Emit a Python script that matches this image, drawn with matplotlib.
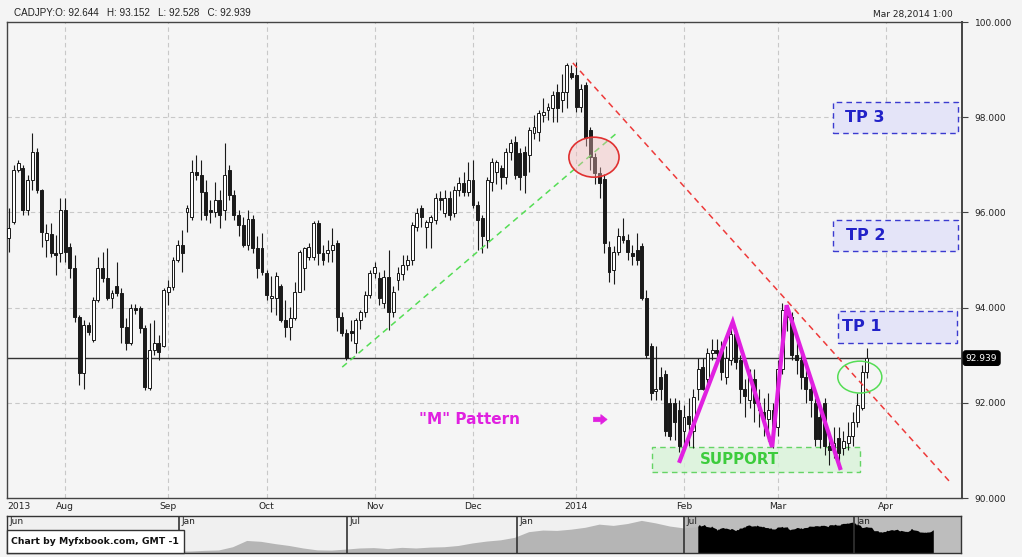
import numpy as np
import pandas as pd
import matplotlib
matplotlib.use("Agg")
import matplotlib.pyplot as plt
import matplotlib.transforms as mtrans
from matplotlib.patches import Rectangle, Ellipse

# ============================
# Data: CADJPY daily candles
# ============================
dates = pd.bdate_range("2013-07-16", "2014-03-28")

open_ = [
    95.46, 95.79, 96.89, 96.93, 96.05, 96.68, 97.27, 96.47, 95.42, 95.55,
    95.15, 95.15, 96.05, 95.27, 94.83, 93.80, 92.63, 93.64, 93.32, 94.16,
    94.83, 94.62, 94.20, 94.45, 94.31, 93.60, 93.26, 93.99, 93.99, 93.57,
    92.31, 93.11, 93.26, 93.20, 94.33, 94.43, 95.00, 95.32, 96.00, 95.90,
    96.85, 96.78, 96.43, 96.05, 96.00, 96.26, 96.05, 96.89, 96.36, 95.95,
    95.74, 95.32, 95.86, 95.25, 95.25, 94.73, 94.20, 94.20, 94.45, 93.74,
    93.60, 93.78, 94.33, 94.83, 95.06, 95.06, 95.78, 95.15, 95.15, 95.21,
    95.36, 93.80, 93.47, 93.50, 93.26, 93.74, 93.90, 94.27, 94.73, 94.62,
    94.10, 94.64, 93.90, 94.58, 94.70, 94.90, 95.00, 95.70, 96.10, 95.70,
    95.80, 95.84, 96.30, 95.99, 96.30, 95.99, 96.47, 96.62, 96.43, 96.68,
    96.16, 95.88, 95.42, 96.64, 96.85, 96.93, 96.74, 97.27, 97.48, 97.25,
    97.27, 97.21, 97.67, 97.69, 98.05, 98.15, 98.19, 98.53, 98.36, 98.53,
    98.93, 98.89, 98.21, 98.68, 97.73, 97.16, 96.83, 96.70, 95.27, 94.78,
    95.17, 95.50, 95.42, 95.15, 95.20, 95.30, 94.20, 93.20, 92.25, 92.55,
    92.60, 92.00, 92.00, 91.85, 91.40, 91.72, 91.40, 92.30, 92.75, 92.50,
    93.05, 93.10, 93.10, 92.55, 92.90, 93.45, 92.90, 92.30, 92.05, 92.50,
    92.00, 91.80, 91.65, 91.85, 91.50, 92.70, 93.95, 93.80, 93.00, 92.90,
    92.55, 92.30, 92.00, 91.70, 92.00, 91.10, 91.05, 91.25, 91.05, 91.15,
    91.30, 91.60, 91.90, 92.644,
]
high = [
    96.09, 96.99, 97.10, 97.00, 96.78, 97.67, 97.35, 96.50, 95.75, 95.78,
    95.52, 96.30, 96.30, 95.36, 95.10, 93.84, 93.74, 93.70, 94.22, 95.06,
    95.17, 95.25, 94.37, 94.96, 94.41, 93.78, 94.08, 94.08, 94.04, 93.64,
    93.68, 93.74, 93.43, 94.41, 94.58, 95.06, 95.42, 95.63, 96.15, 97.10,
    97.20, 97.10, 96.68, 96.26, 96.64, 96.47, 97.46, 97.00, 96.47, 96.05,
    95.90, 96.05, 95.94, 95.50, 95.57, 94.79, 94.66, 94.75, 94.50, 94.16,
    94.01, 94.54, 95.21, 95.27, 95.36, 95.82, 95.84, 95.32, 95.42, 95.67,
    95.42, 93.90, 93.55, 93.74, 93.78, 93.95, 94.35, 94.79, 94.96, 94.75,
    94.79, 95.21, 94.45, 94.85, 95.10, 95.10, 95.80, 96.10, 96.15, 95.85,
    95.95, 96.40, 96.45, 96.47, 96.45, 96.55, 96.75, 96.85, 97.05, 97.10,
    96.25, 95.95, 96.75, 97.15, 97.10, 97.00, 97.35, 97.55, 97.60, 97.35,
    97.40, 97.80, 98.05, 98.15, 98.40, 98.30, 98.55, 98.70, 98.90, 99.14,
    99.10, 99.15, 98.70, 98.75, 97.80, 97.25, 96.95, 96.80, 95.40, 95.30,
    95.67, 95.88, 95.55, 95.32, 95.57, 95.36, 94.37, 93.26, 93.20, 92.75,
    92.69, 92.10, 92.10, 92.06, 91.95, 92.10, 92.30, 92.95, 92.95, 93.15,
    93.35, 93.35, 93.30, 93.20, 93.70, 93.55, 93.00, 92.50, 92.70, 92.70,
    92.30, 92.10, 92.20, 92.00, 92.90, 94.10, 94.05, 93.90, 93.30, 93.05,
    92.70, 92.40, 92.10, 91.90, 92.10, 91.40, 91.50, 91.50, 91.40, 91.60,
    91.80, 92.20, 92.80, 93.152,
]
low = [
    95.17, 95.75, 96.85, 95.95, 95.95, 96.47, 96.40, 95.27, 95.06, 95.06,
    94.69, 94.95, 94.95, 94.62, 93.70, 92.37, 92.29, 93.43, 93.28, 94.12,
    94.54, 94.16, 93.99, 94.24, 93.26, 93.11, 93.22, 93.87, 93.47, 92.27,
    92.27, 93.01, 92.90, 93.17, 94.06, 94.37, 94.96, 94.75, 95.59, 95.84,
    96.68, 95.84, 95.84, 95.78, 95.90, 95.67, 95.84, 96.26, 95.84, 95.50,
    95.27, 95.21, 95.15, 94.62, 94.69, 94.16, 93.90, 93.84, 93.70, 93.38,
    93.32, 93.74, 94.33, 94.37, 95.00, 95.00, 94.89, 94.89, 94.96, 94.96,
    93.50, 93.40, 92.90, 93.30, 93.05, 93.55, 93.80, 94.20, 94.62, 94.06,
    94.00, 93.53, 93.80, 94.37, 94.58, 94.80, 94.90, 95.60, 95.70, 95.25,
    95.25, 95.75, 96.05, 95.90, 95.85, 95.90, 96.35, 96.35, 96.35, 96.10,
    95.21, 95.15, 95.25, 96.45, 96.60, 96.50, 96.60, 97.10, 96.70, 96.47,
    96.40, 96.85, 97.55, 97.50, 97.90, 97.95, 97.90, 97.90, 98.10, 98.20,
    98.80, 98.10, 98.10, 97.40, 96.90, 96.60, 96.30, 95.15, 94.54, 94.50,
    95.10, 95.35, 95.00, 94.90, 94.90, 94.16, 92.94, 92.06, 92.06, 92.06,
    91.30, 91.22, 91.22, 90.97, 91.01, 91.10, 91.05, 92.06, 92.27, 92.40,
    92.90, 92.85, 92.48, 92.40, 92.80, 92.70, 92.00, 91.70, 91.90, 91.60,
    91.50, 91.30, 91.20, 91.05, 91.30, 92.60, 93.50, 92.90, 92.60, 92.30,
    92.00, 91.70, 91.10, 91.05, 90.90, 90.70, 90.85, 90.65, 90.90, 91.00,
    91.10, 91.50, 91.85, 92.528,
]
close = [
    95.67, 96.89, 97.04, 96.05, 96.68, 97.27, 96.47, 95.59, 95.57, 95.15,
    95.10, 96.05, 95.17, 94.83, 93.80, 92.63, 93.64, 93.49, 94.16, 94.83,
    94.62, 94.20, 94.31, 94.31, 93.60, 93.26, 93.99, 93.95, 93.57, 92.33,
    93.11, 93.26, 93.07, 94.37, 94.43, 95.00, 95.32, 95.15, 96.10, 96.85,
    96.78, 96.43, 95.95, 96.00, 96.26, 95.95, 96.78, 96.36, 95.95, 95.74,
    95.32, 95.86, 95.25, 94.83, 94.75, 94.27, 94.25, 94.66, 93.74, 93.60,
    93.78, 94.33, 95.17, 95.25, 95.27, 95.78, 95.15, 95.00, 95.21, 95.32,
    93.80, 93.47, 92.95, 93.47, 93.74, 93.90, 94.27, 94.73, 94.85, 94.20,
    94.64, 93.90, 94.33, 94.73, 94.90, 95.00, 95.74, 95.99, 95.90, 95.80,
    95.90, 96.30, 96.26, 96.30, 95.95, 96.47, 96.62, 96.43, 96.68, 96.16,
    95.84, 95.50, 96.68, 97.06, 97.06, 96.74, 97.27, 97.46, 96.78, 96.74,
    96.78, 97.73, 97.79, 98.09, 98.11, 98.22, 98.47, 98.19, 98.53, 99.10,
    98.85, 98.21, 98.60, 97.56, 97.16, 96.83, 96.62, 95.35, 94.75, 95.17,
    95.50, 95.42, 95.17, 95.08, 95.00, 94.20, 93.00, 92.20, 92.30, 92.30,
    91.40, 91.30, 91.60, 91.10, 91.70, 91.55, 92.12, 92.70, 92.30, 93.05,
    93.10, 93.05, 92.65, 92.95, 93.45, 92.85, 92.30, 92.15, 92.55, 92.00,
    91.85, 91.65, 91.85, 91.50, 92.70, 93.95, 93.80, 93.00, 92.90, 92.55,
    92.30, 92.05, 91.25, 91.25, 91.10, 91.00, 91.15, 90.95, 91.20, 91.30,
    91.60, 91.95, 92.65, 92.939,
]

# navigator history (semi-monthly closes, Jun 2011 -> Jul 2013)
nav_close = [
    81.0, 81.5, 80.5, 79.0, 78.0, 78.5, 77.5, 77.0, 77.8, 77.0,
    76.8, 76.5, 76.2, 76.1, 76.6, 76.9, 79.5, 84.5, 83.8, 82.0,
    80.5, 78.5, 77.0, 76.8, 77.6, 78.5, 78.8, 78.0, 79.0, 78.5,
    79.2, 79.5, 80.5, 82.5, 84.0, 85.0, 87.0, 91.5, 92.8, 92.5,
    93.5, 95.0, 97.5, 96.5, 98.0, 100.5, 98.5, 96.0, 94.5, 95.5,
]
nav_dates = pd.date_range("2011-06-29", "2013-07-16", periods=len(nav_close))

# annotations (bar index / price)
green_trend_x = [71.1, 129.7]
green_trend_y = [92.75, 97.67]
red_trend_x = [120.3, 200.7]
red_trend_y = [99.14, 90.34]
m_idx = [143.1, 154.4, 162.8, 165.9, 177.3]
m_price = [90.78, 93.70, 91.07, 94.05, 90.63]
tp_names = ["TP 1", "TP 2", "TP 3"]
tp_low = [93.26, 95.19, 97.67]
tp_high = [93.93, 95.84, 98.32]
tp_left = [176.8, 175.8, 175.8]
tp_right = [202.2, 202.4, 202.4]
tp_text_x = [177.8, 178.6, 178.3]
support_box = (137.2, 181.5, 90.55, 91.07)
last_price = 92.939

BG = "#f4f4f4"
MAGENTA = "#e020e0"
BLUE = "#2222c8"
GREEN = "#3ccc3c"

# ============================
# Figure / main axes
# ============================
fig = plt.figure(figsize=(10.22, 5.57), dpi=100, facecolor=BG)
W, H = 1022, 557
ax = fig.add_axes([7 / W, 1 - 498 / H, 955 / W, 476 / H], facecolor="#f5f5f5")

o = np.array(open_)
h = np.array(high)
l = np.array(low)
c = np.array(close)
x = np.arange(len(dates))
up = c >= o
body_bot = np.minimum(o, c)
body_h = np.maximum(np.abs(c - o), 0.025)

ax.vlines(x, l, h, color="#1a1a1a", lw=0.8, zorder=3)
ax.bar(x[up], body_h[up], bottom=body_bot[up], width=0.62,
       color="white", edgecolor="#1a1a1a", lw=0.7, zorder=4)
ax.bar(x[~up], body_h[~up], bottom=body_bot[~up], width=0.62,
       color="#1a1a1a", edgecolor="#1a1a1a", lw=0.7, zorder=4)

ax.set_xlim(-0.4, 203.3)
ax.set_ylim(90, 100)

# month ticks (calendar days past the last bar)
month_starts = pd.date_range("2013-08-01", "2014-04-01", freq="MS")
tick_pos = []
for m in month_starts:
    if m <= dates[-1]:
        tick_pos.append(int(np.searchsorted(dates, m)))
    else:
        tick_pos.append(len(dates) - 1 + (m - dates[-1]).days)
tick_lab = ["2014" if m.month == 1 else m.strftime("%b") for m in month_starts]

for p in tick_pos:
    ax.axvline(p, color="#c8c8c8", lw=0.8, ls=(0, (4, 3)), zorder=1)
for lvl in [92, 94, 96, 98]:
    ax.axhline(lvl, color="#c8c8c8", lw=0.8, ls=(0, (4, 3)), zorder=1)

ax.set_xticks([-0.3] + tick_pos)
ax.set_xticklabels(["2013"] + tick_lab, fontsize=6.6, color="#222222")
ax.get_xticklabels()[0].set_ha("left")
ax.tick_params(axis="x", length=0, pad=3)

ax.yaxis.tick_right()
ax.set_yticks(np.arange(90, 101, 2))
ax.set_yticklabels([f"{v:.3f}" for v in np.arange(90, 101, 2)], fontsize=6.5, color="#222222")
ax.tick_params(axis="y", length=4, width=0.8, color="#444444", pad=5)
for s in ax.spines.values():
    s.set_color("#444444")
    s.set_linewidth(1.0)
ax.spines["right"].set_linewidth(1.4)

# last price line + label
ax.axhline(last_price, color="#333333", lw=1.0, zorder=2)
trans = mtrans.blended_transform_factory(ax.transAxes, ax.transData)
ax.text(1.004, last_price, f"{last_price:.3f}", transform=trans, fontsize=6.5,
        color="white", va="center", ha="left", clip_on=False,
        bbox=dict(boxstyle="round,pad=0.3", fc="black", ec="black"))

# trend lines
ax.plot(green_trend_x, green_trend_y, color="#55dd55", lw=1.1, ls=(0, (4, 3)), zorder=5)
ax.plot(red_trend_x, red_trend_y, color="#ee3a3a", lw=1.1, ls=(0, (4, 3)), zorder=5)

# ellipses
ax.add_patch(Ellipse((124.8, 97.16), 10.7, 0.84, fc=(0.95, 0.72, 0.72, 0.4),
                     ec="#e03030", lw=1.2, zorder=6))
ax.add_patch(Ellipse((181.5, 92.54), 9.4, 0.67, fc="none", ec="#55dd55", lw=1.1, zorder=6))

# M pattern
ax.plot(m_idx, m_price, color=MAGENTA, lw=3.0, solid_joinstyle="miter", zorder=7)
ax.text(87.5, 91.65, '"M" Pattern', color=MAGENTA, fontsize=11,
        fontweight="bold", va="center", ha="left")
ax.annotate("", xy=(127.6, 91.65), xytext=(124.7, 91.65),
            arrowprops=dict(arrowstyle="simple,head_length=0.45,head_width=0.7,tail_width=0.32",
                            fc=MAGENTA, ec=MAGENTA, lw=0.5, shrinkA=0, shrinkB=0))

# support zone
sx0, sx1, sy0, sy1 = support_box
ax.add_patch(Rectangle((sx0, sy0), sx1 - sx0, sy1 - sy0, fc="#d9f3d9", ec="#44cc44",
                       lw=1.0, ls=(0, (4, 3)), alpha=0.8, zorder=2))
ax.text(155.8, (sy0 + sy1) / 2, "SUPPORT", color=GREEN, fontsize=10.8,
        fontweight="bold", va="center", ha="center", zorder=8)

# take-profit boxes
for name, lo_, hi_, x0_, x1_, tx in zip(tp_names, tp_low, tp_high, tp_left, tp_right, tp_text_x):
    ax.add_patch(Rectangle((x0_, lo_), x1_ - x0_, hi_ - lo_, fc="#e4e4f8", ec="#3a3ad0",
                           lw=1.0, ls=(0, (4, 3)), zorder=6))
    ax.text(tx, (lo_ + hi_) / 2, name, color=BLUE, fontsize=11.5,
            fontweight="bold", va="center", ha="left", zorder=7)

# header
fig.text(14 / W, 1 - 13 / H, "CADJPY:O: 92.644   H: 93.152   L: 92.528   C: 92.939",
         fontsize=7.1, family="Liberation Sans", color="#222222", va="center", ha="left")
fig.text(953 / W, 1 - 14 / H, "Mar 28,2014 1:00", fontsize=6.5, color="#222222",
         va="center", ha="right")

# ============================
# Navigator strip
# ============================
nav = fig.add_axes([7 / W, 1 - 553 / H, 954 / W, 37 / H], facecolor="#f0f0f0")
nav_x0, nav_x1 = pd.Timestamp("2011-06-29"), pd.Timestamp("2014-04-27")
nav.set_xlim(nav_x0, nav_x1)
nav.set_ylim(74.5, 104)
nav.axvspan(pd.Timestamp("2013-07-01"), nav_x1, color="#bdbdbd", zorder=0)
nav.fill_between(nav_dates, nav_close, 74.5, color="#b5b5b5", lw=0, zorder=1)
nav.fill_between(dates, close, 74.5, color="black", lw=0, zorder=2)
seps = pd.to_datetime(["2012-01-01", "2012-07-01", "2013-01-01", "2013-07-01", "2014-01-01"])
ntrans = mtrans.blended_transform_factory(nav.transData, nav.transAxes)
for s_ in seps:
    nav.axvline(s_, color="#333333", lw=1.2, zorder=3)
    nav.text(s_ + pd.Timedelta(days=3), 0.86, s_.strftime("%b"), transform=ntrans,
             fontsize=6.5, color="#222222", va="center", ha="left", zorder=4)
nav.text(nav_x0 + pd.Timedelta(days=3), 0.86, "Jun", transform=ntrans,
         fontsize=6.5, color="#222222", va="center", ha="left", zorder=4)
nav.set_xticks([])
nav.set_yticks([])
for s in nav.spines.values():
    s.set_color("#333333")
    s.set_linewidth(1.0)

fig.add_artist(Rectangle((7 / W, 4 / H), 177 / W, 23 / H, transform=fig.transFigure,
                         fc="white", ec="#333333", lw=1.0, zorder=10))
fig.text(11 / W, 1 - 542 / H, "Chart by Myfxbook.com, GMT -1", fontsize=6.7,
         fontweight="bold", color="#111111", va="center", ha="left", zorder=11)

fig.savefig("out.png", dpi=100, facecolor=BG)
